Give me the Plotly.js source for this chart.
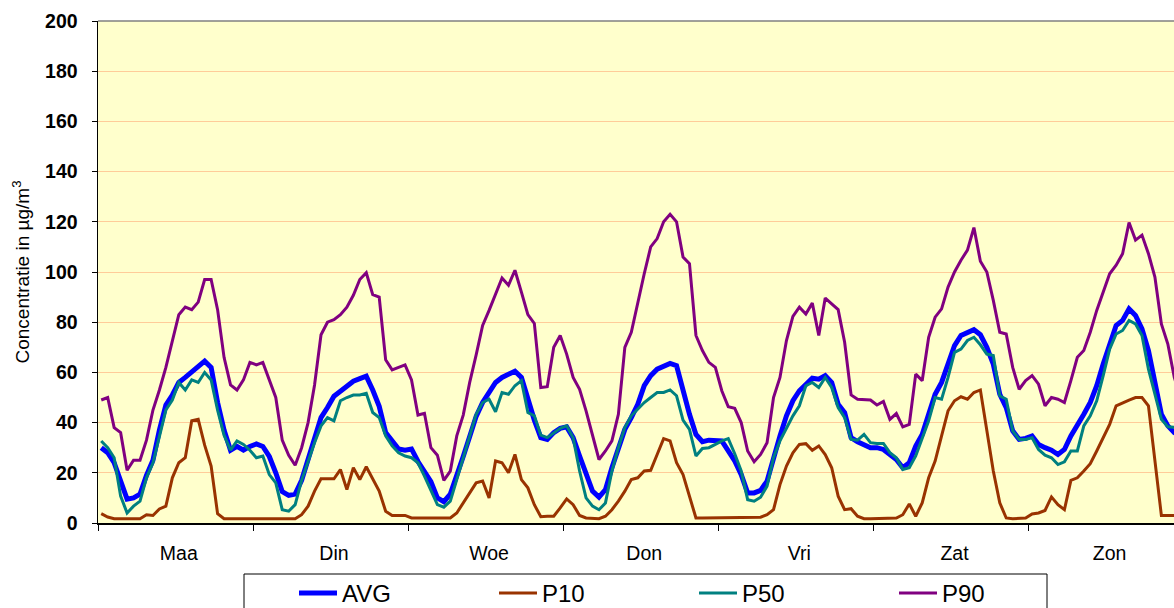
<!DOCTYPE html>
<html>
<head>
<meta charset="utf-8">
<script src="https://cdn.plot.ly/plotly-3.0.1.min.js"></script>
<style>
html,body{margin:0;padding:0;overflow:hidden;background:#fff;width:1174px;height:608px;}
#chart{width:1200px;height:640px;}
</style>
</head>
<body>
<div id="chart"></div>
<script>
// Day labels (each day has 24 hourly values)
const dayLabels = ['Maa', 'Din', 'Woe', 'Don', 'Vri', 'Zat', 'Zon'];

const avg = [
  30, 28, 24, 16, 9.5, 10, 11.5, 19, 25, 37, 47, 51, 56, 58, 60, 62, 64.5, 62, 48, 37, 29, 30.5, 29, 30.5,
  31.5, 30.5, 26.5, 20, 12.5, 11, 11.5, 17, 25, 33, 42, 46, 50.5, 52.5, 54.5, 56.5, 57.5, 58.5, 53, 46.5, 36, 33, 29.5, 29,
  29.5, 24.5, 20, 16.5, 10, 8.5, 11.5, 18.5, 26.5, 34.5, 42.5, 48, 52, 56, 58, 59.5, 60.5, 58, 49, 41, 34, 33.3, 36, 37.7,
  38.3, 34, 26.7, 19.3, 12.7, 10.3, 13.3, 22, 30, 37.3, 42, 47.3, 54.7, 58.7, 61.3, 62.7, 63.6, 62.7, 52.7, 43.3, 35.3, 32.4, 33, 33,
  32.7, 28.7, 24.7, 19.3, 12, 12, 13, 16.7, 26, 34.7, 42.7, 48.7, 52.7, 55.3, 57.7, 57.3, 58.7, 56, 47.3, 44, 34, 32.4, 31.3, 30,
  30, 29.3, 27.3, 25.3, 22, 24, 30.7, 35.3, 43.3, 51.3, 56, 64, 70.7, 74.7, 75.6, 77, 75, 70, 63.3, 51.3, 46, 36.7, 33.3, 33.7,
  34.7, 31.3, 30, 29, 27.3, 29.3, 34.7, 38.7, 43.3, 48, 54.7, 63.3, 71.3, 78.7, 80.7, 85.3, 82.7, 77.3, 68.7, 56.7, 43.3, 38.7, 36, 35
];

const p10 = [
  3.7, 2.4, 1.7, 1.7, 1.7, 1.7, 1.7, 3.3, 3, 5.6, 6.7, 18, 24, 26, 40.7, 41.3, 31, 22.7, 3.7, 1.7, 1.7, 1.7, 1.7, 1.7,
  1.7, 1.7, 1.7, 1.7, 1.7, 1.7, 1.7, 3.3, 6.7, 12.7, 17.6, 17.6, 17.6, 21.3, 13.3, 22, 17.3, 22.4, 17.3, 12.7, 4.7, 3, 3, 3,
  2, 2, 2, 2, 2, 2, 2, 4, 8, 12, 16, 16.7, 10, 24.7, 24, 20, 27.3, 17.3, 14, 7.3, 2.5, 2.7, 2.7, 6,
  9.6, 7.3, 3, 2, 1.7, 1.7, 2.7, 5.3, 8.7, 12.7, 17.3, 18, 20.7, 21, 27.3, 33.6, 32.7, 24, 19.3, 10.3, 2, 2, 2, 2,
  2, 2, 2, 2, 2, 2, 2.3, 3.3, 5.3, 15.3, 22.7, 28, 31.3, 31.6, 29, 30.7, 27.3, 22, 10.7, 5.3, 5.7, 2.7, 1.7, 1.7,
  1.7, 1.7, 1.7, 2, 3.3, 7.6, 2.7, 8, 18, 24.7, 34.7, 44.7, 48.7, 50.3, 49.3, 52, 53, 36.7, 20.7, 8, 2, 1.7, 1.7, 2,
  3.6, 4, 5, 10.4, 7.3, 5.3, 17, 18, 20.7, 23.6, 28.7, 34, 39.3, 46.7, 48, 49, 50, 50, 46.7, 24.7, 3, 3, 3, 3
];

const p50 = [
  32.7, 30, 26, 10.7, 4, 6.7, 8.7, 18, 24, 34.7, 45, 49, 56, 53, 57, 56, 60, 57, 45, 35, 29, 32.7, 31.3, 29,
  26, 26.7, 19.3, 16, 5.3, 4.7, 7.3, 17, 24.7, 32, 38.7, 42, 40.7, 48.7, 50, 51, 51, 51.7, 44, 42, 34.7, 30.7, 28, 26.7,
  26, 24, 18.7, 13.3, 7.3, 6.3, 8.7, 17.3, 26, 34.7, 43.3, 48, 49.3, 44.3, 52, 51.3, 54.7, 56.7, 44, 42.7, 35, 34, 36, 37.7,
  38.7, 34, 20.7, 10, 6.7, 5.3, 8, 20.7, 30, 38, 42.7, 45.3, 48, 50, 52, 52, 53, 50.7, 41, 37.3, 26.7, 29.7, 30, 31.3,
  32.7, 33.6, 27.6, 20.7, 9.3, 8.7, 10.3, 14.7, 26, 32.7, 38, 42.7, 46.7, 54.7, 56, 54, 58, 54, 46, 42, 33.3, 33, 35.3, 32,
  31.7, 31.7, 28, 26, 21.3, 22, 26.7, 34, 40.7, 50, 49.3, 58, 68, 69.3, 72.7, 74, 71, 67.3, 66.7, 50.7, 49.3, 36.7, 33.3, 33.3,
  34, 29.3, 27, 26, 23.3, 24.4, 28.7, 28.7, 38.7, 42.7, 48.7, 58.7, 69.3, 75.3, 76.7, 80.7, 79.3, 74.7, 61.3, 51.3, 41.3, 38.3, 38, 38
];

const p90 = [
  49, 50, 38, 36, 21, 25, 25, 33, 45, 53, 62, 73, 83, 86, 85, 88, 97, 97, 85, 66, 55, 53, 57, 64,
  63, 64, 57, 50, 33, 27, 23, 30, 40, 55, 75, 80, 81, 83, 86, 90.7, 97, 99.7, 91, 90, 65, 61, 62, 63,
  57, 43, 43.7, 30, 27, 17, 20.7, 34.7, 43, 56, 67, 78.7, 84.7, 91, 97.6, 94.7, 100.7, 92, 83, 79.5, 54, 54.3, 70, 74.7,
  67.3, 58, 53.3, 44.7, 35.3, 25.3, 28.7, 32.7, 43.3, 70, 76, 88, 99.3, 110, 113.3, 120, 123, 120, 106, 103.3, 74.7, 68.7, 64, 62,
  52.7, 46.3, 45.7, 40, 28.7, 24.4, 27.3, 32, 50, 58, 72.7, 82.3, 86, 83.3, 87.6, 74.7, 89.6, 87.3, 85, 72, 51, 49.3, 49, 49,
  47, 48.4, 41.3, 43.6, 38.3, 39.3, 59.3, 56.7, 74, 82, 85.3, 94, 100, 104.7, 108.7, 117.7, 104.3, 100, 88.7, 76, 75.3, 62, 53.3, 56.7,
  58.7, 55.3, 46.7, 50, 49.3, 48, 56.7, 66, 68.7, 76, 84.7, 92, 99.3, 102.7, 107.3, 119.7, 112.7, 114.7, 107.3, 98, 79.3, 71.3, 58, 50
];

const hourIndex = avg.map((_, i) => i);
const FONT = 'Arial, "Liberation Sans", sans-serif';

const traces = [
  {name: 'AVG', y: avg, color: '#0000FF', w: 5},
  {name: 'P10', y: p10, color: '#993300', w: 3},
  {name: 'P50', y: p50, color: '#008080', w: 3},
  {name: 'P90', y: p90, color: '#800080', w: 3}
].map(s => ({
  type: 'scatter', mode: 'lines', name: s.name,
  x: hourIndex, y: s.y,
  line: {color: s.color, width: s.w},
  hoverinfo: 'x+y+name'
}));

const W = 1200, H = 640;
const mL = 98, mR = 16, mT = 21, mB = 117;
const pw = W - mL - mR, ph = H - mT - mB;
const px2x = px => (px - mL) / pw;
const py2y = py => (H - mB - py) / ph;

const layout = {
  width: W, height: H,
  margin: {l: mL, r: mR, t: mT, b: mB, pad: 0, autoexpand: false},
  paper_bgcolor: '#FFFFFF',
  plot_bgcolor: '#FFFFCC',
  showlegend: true,
  font: {family: FONT, color: '#000'},
  xaxis: {
    range: [-0.5, hourIndex.length - 0.5],
    tickmode: 'array',
    tickvals: dayLabels.map((_, k) => 12 + 24 * k),
    ticktext: dayLabels,
    ticks: '',
    ticklabelstandoff: 12,
    tickfont: {size: 19.5, family: FONT, color: '#000'},
    showgrid: false, zeroline: false,
    showline: true, linecolor: '#000', linewidth: 1.5,
    minor: {tickmode: 'linear', tick0: -0.5, dtick: 24, ticks: 'outside', ticklen: 6, tickwidth: 1, tickcolor: '#000', showgrid: false},
    automargin: false,
    fixedrange: true
  },
  yaxis: {
    range: [0, 200], dtick: 20, tick0: 0,
    ticks: 'outside', ticklen: 5, tickwidth: 1, tickcolor: '#000',
    ticklabelstandoff: 10,
    tickfont: {size: 19.5, family: FONT, color: '#000', weight: 'bold'},
    showgrid: true, gridcolor: '#FFCC99', gridwidth: 1,
    zeroline: false,
    showline: true, linecolor: '#000', linewidth: 1.5,
    title: {text: 'Concentratie in µg/m<sup>3</sup>', font: {size: 19, family: FONT, color: '#000'}, standoff: 10},
    automargin: false,
    fixedrange: true
  },
  legend: {
    orientation: 'h',
    x: px2x(294), xanchor: 'left',
    y: py2y(571), yanchor: 'top',
    itemwidth: 38,
    entrywidth: 147, entrywidthmode: 'pixels',
    bgcolor: 'rgba(0,0,0,0)', borderwidth: 0,
    font: {size: 24, family: FONT, color: '#000'}
  },
  shapes: [
    {type: 'line', xref: 'paper', yref: 'paper', x0: 0, x1: 1, y0: 1, y1: 1, line: {color: '#808080', width: 1.5}, layer: 'above'},
    {type: 'rect', xref: 'paper', yref: 'paper', x0: px2x(244), x1: px2x(1047), y0: py2y(574), y1: py2y(630), line: {color: '#000', width: 1}, fillcolor: 'rgba(0,0,0,0)', layer: 'above'}
  ]
};

Plotly.newPlot('chart', traces, layout, {displayModeBar: false, staticPlot: true});
</script>
</body>
</html>
